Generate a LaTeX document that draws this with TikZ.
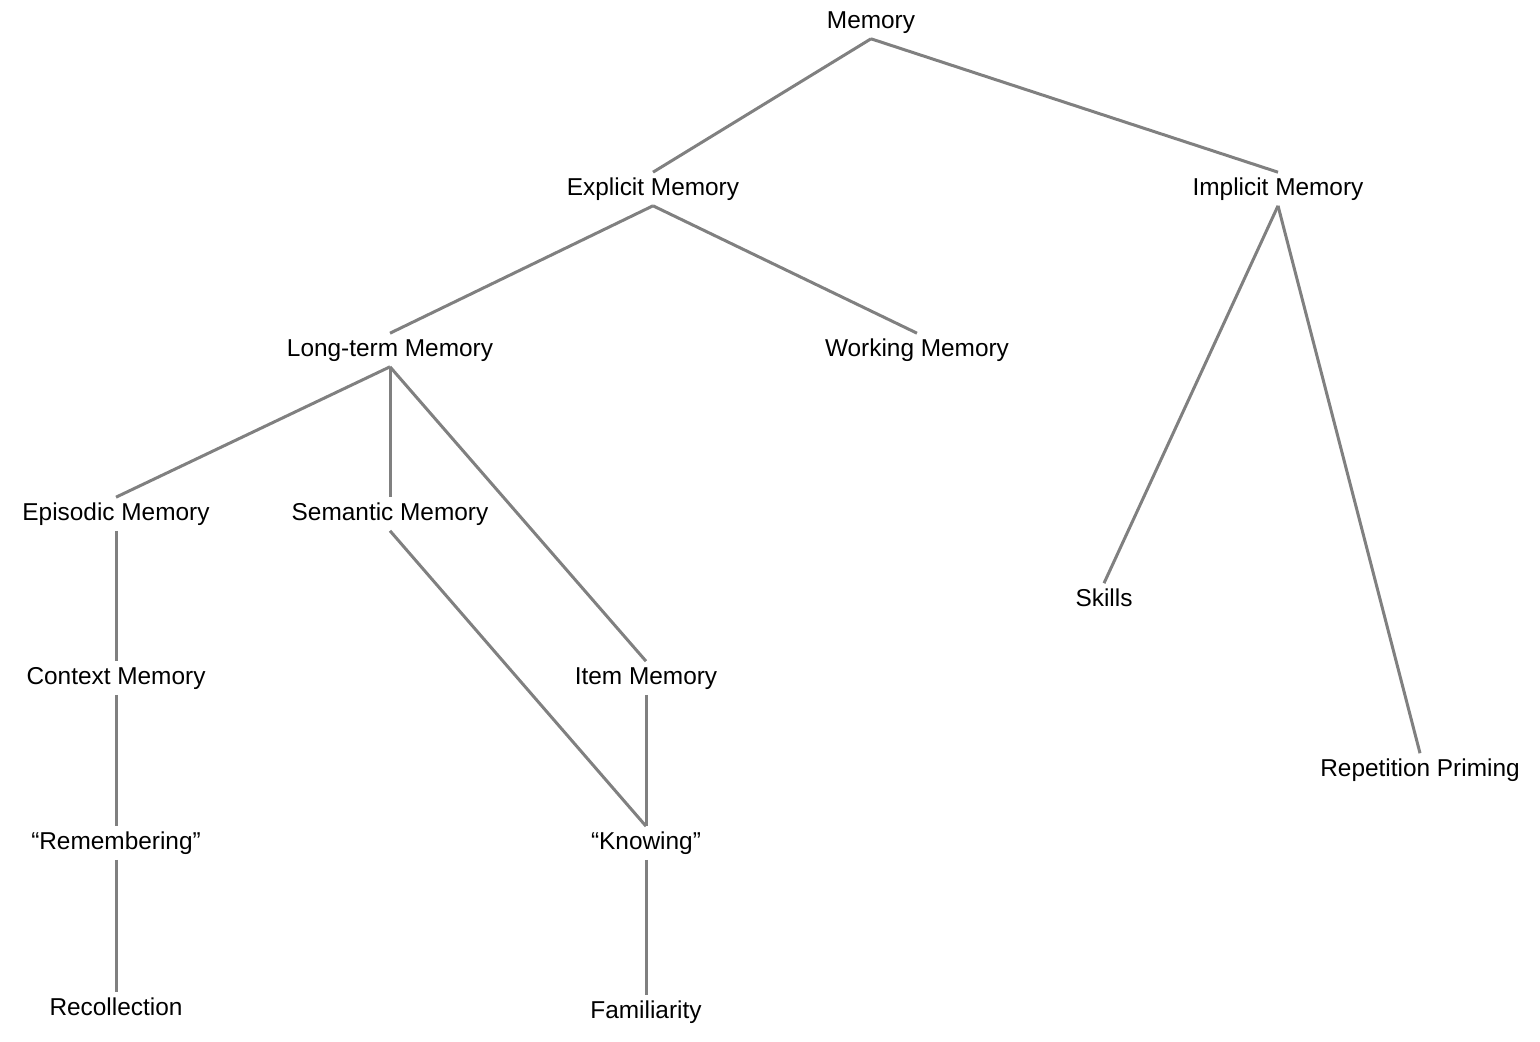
\documentclass[tikz,border=0pt]{standalone}
\usepackage{fontspec}
\setmainfont{Liberation Sans}
\usepackage{tikz}

\begin{document}
\begin{tikzpicture}[x=0.5pt,y=-0.5pt,
		term/.style={inner xsep=1pt,inner ysep=2.2pt,text height=9.2pt,text depth=2.8pt,yshift=-1pt,font=\fontsize{12.2}{14}\selectfont},
		branch/.style={draw=black!50,line width=1.5pt}]
				\useasboundingbox (0,0) rectangle (1540,1042);
				
				\node[term] (mem) at (871,20) {Memory};
				\node[term] (expl) at (653,187) {Explicit Memory};
				\node[term] (impl) at (1278,187) {Implicit Memory};
				\node[term] (ltm) at (390,348) {Long-term Memory};
				\node[term] (wm) at (917,348) {Working Memory};
				\node[term] (epi) at (116,512) {Episodic Memory};
				\node[term] (sem) at (390,512) {Semantic Memory};
				\node[term] (skill) at (1104,598) {Skills};
				\node[term] (item) at (646,676) {Item Memory};
				\node[term] (ctx) at (116,676) {Context Memory};
				\node[term] (prim) at (1420,768) {Repetition Priming};
				\node[term] (rem) at (116,841) {“Remembering”};
				\node[term] (know) at (646,841) {“Knowing”};
				\node[term] (recol) at (116,1007) {Recollection};
				\node[term] (famil) at (646,1010) {Familiarity};
				
				\foreach \a/\b in {mem/expl,mem/impl,expl/ltm,expl/wm,impl/skill,impl/prim,ltm/epi,ltm/item,sem/know}{
					\draw[branch] (\a.south) -- (\b.north);
				}
				\foreach \a/\b in {ltm/sem,epi/ctx,ctx/rem,rem/recol,item/know,know/famil}{
					\draw[branch] (\a.south) -- (\a.south |- \b.north);
				}
			\end{tikzpicture}
\end{document}
